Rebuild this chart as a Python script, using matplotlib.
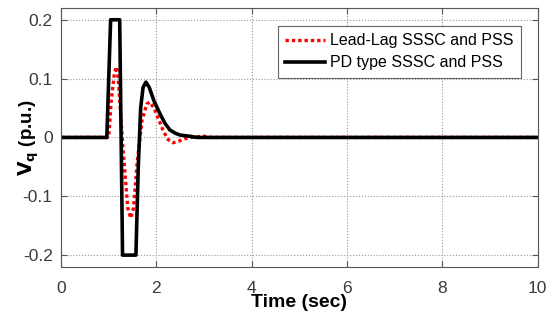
import matplotlib.pyplot as plt

# Lead-Lag SSSC and PSS (red dotted)
t_leadlag = [0, 1.0, 1.05, 1.12, 1.165, 1.2, 1.3, 1.4, 1.46, 1.52, 1.6, 1.7,
             1.8, 1.86, 1.95, 2.05, 2.15, 2.25, 2.35, 2.45, 2.6, 2.8, 3.0, 3.15, 10]
vq_leadlag = [0, 0, 0.06, 0.11, 0.12, 0.1, -0.02, -0.12, -0.137, -0.12, -0.04, 0.03,
              0.057, 0.06, 0.05, 0.03, 0.01, -0.004, -0.009, -0.007, -0.002, 0.001, 0.002, 0, 0]

# PD type SSSC and PSS (black solid)
t_pd = [0, 0.96, 1.04, 1.23, 1.29, 1.57, 1.62, 1.67, 1.72, 1.78, 1.85, 1.95,
        2.07, 2.18, 2.28, 2.4, 2.5, 2.7, 2.85, 10]
vq_pd = [0, 0, 0.2, 0.2, -0.2, -0.2, -0.05, 0.05, 0.085, 0.094, 0.085, 0.062,
         0.041, 0.024, 0.013, 0.007, 0.004, 0.002, 0, 0]

plt.rcParams['font.family'] = ['Liberation Sans', 'DejaVu Sans']

fig = plt.figure(figsize=(5.55, 3.2), dpi=100)
ax = fig.add_axes([0.11, 0.166, 0.859, 0.809])

ax.plot(t_leadlag, vq_leadlag, color='red', linewidth=2.4, dashes=(1, 0.9),
        dash_capstyle='butt', label='Lead-Lag SSSC and PSS')
ax.plot(t_pd, vq_pd, '-', color='black', linewidth=2.6, label='PD type SSSC and PSS')

ax.set_xlim(0, 10)
ax.set_ylim(-0.22, 0.22)
ax.set_xticks([0, 2, 4, 6, 8, 10])
ax.set_yticks([-0.2, -0.1, 0, 0.1, 0.2])
ax.set_yticklabels(['-0.2', '-0.1', '0', '0.1', '0.2'])
ax.tick_params(direction='in', labelsize=12.5, labelcolor='#3a3a3a', color='#555555',
               top=True, right=True, length=4)
ax.tick_params(axis='x', pad=10)
ax.tick_params(axis='y', pad=6)
ax.grid(True, linestyle=':', color='#999999', linewidth=0.8)
for s in ax.spines.values():
    s.set_color('#555555')
    s.set_linewidth(0.8)

ax.set_xlabel('Time (sec)', fontsize=14, fontweight='bold', va='top')
ax.xaxis.set_label_coords(0.5, -0.105)
ax.set_ylabel(r'$\mathbf{V_q}$ (p.u.)', fontsize=13.5, fontweight='bold')
ax.yaxis.set_label_coords(-0.042, 0.5)

leg = ax.legend(loc='upper right', bbox_to_anchor=(0.964, 0.93), fontsize=11.5,
                fancybox=False, edgecolor='#666666', framealpha=1,
                handlelength=2.5, borderpad=0.45, labelspacing=0.45, handletextpad=0.3,
                borderaxespad=0)
leg.get_frame().set_linewidth(0.8)

plt.savefig('out.png', dpi=100)
